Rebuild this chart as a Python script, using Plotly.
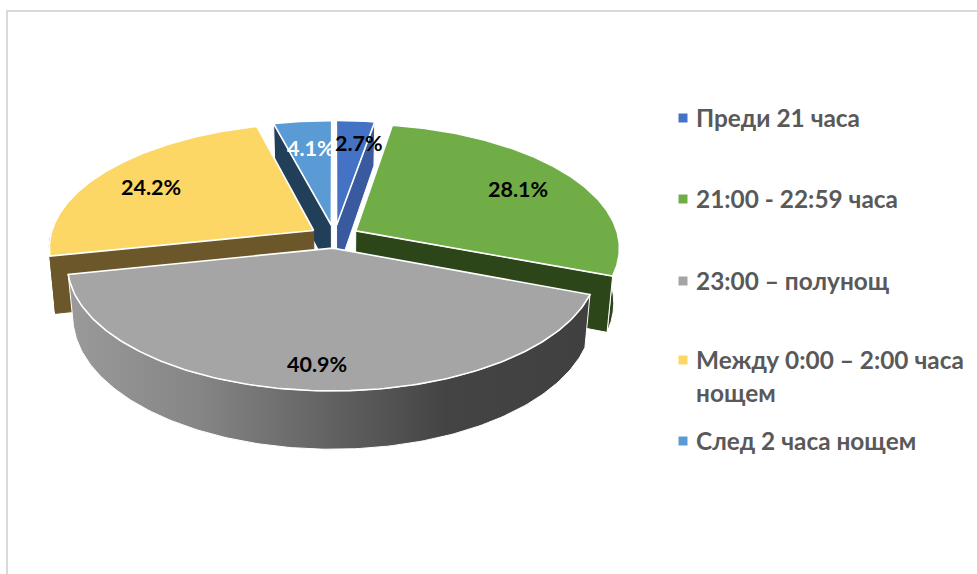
import numpy as np
import plotly.graph_objects as go

# ---- data ----
categories = ["Преди 21 часа", "21:00 - 22:59 часа", "23:00 – полунощ",
              "Между 0:00 – 2:00 часа<br>нощем", "След 2 часа нощем"]
values = [2.7, 28.1, 40.9, 24.2, 4.1]
labels = ["2.7%", "28.1%", "40.9%", "24.2%", "4.1%"]

# ---- styles ----
top_colors = ["#4472C4", "#70AD47", "#A5A5A5", "#FCD765", "#5B9BD5"]
side_colors = ["#3A5A9F", "#2C4519", "#444444", "#6B5729", "#223F59"]
wall_lines = ["white", "white", "white", "#6B5729", "white"]
label_colors = ["black", "black", "black", "black", "white"]
label_radius = [0.80, 0.62, 0.78, 0.68, 0.75]
label_nudge = [(7, 3), (29, -7), (3, 8), (-21, -3), (2, 3)]
slice_scale = [1.0, 1.012, 1.0, 1.015, 1.0]
slice_depth = [50, 54, 50, 56, 50]
legend_rows = [118, 199, 281, 360, 441]
legend_text_shift = -1
draw_order = [4, 0, 3, 1, 2]
FONT = "Lato, 'Noto Sans', sans-serif"

W, H_PX = 977, 574
CX, CY, RX, RY, K, EXPLODE, BOTTOM_SCALE = 334.5, 236.5, 259.5, 121, 0.13, 0.095, 0.98


def project(px, py, depth=None):
    """Map a point of the unit pie plane to screen space with perspective."""
    px, py = np.asarray(px, float), np.asarray(py, float)
    s = 1 / (1 - K * py)
    x = CX + RX * px * s
    y = CY + RY * py * s
    if depth is not None:
        x = CX + (x - CX) * BOTTOM_SCALE
        y = y + depth * s
    return x, y


def plane(theta, mid, r=1.0):
    ox, oy = EXPLODE * np.sin(mid), -EXPLODE * np.cos(mid)
    return ox + r * np.sin(theta), oy - r * np.cos(theta)


def poly(fig, x, y, color, line="white", width=1.0, gradient=None):
    kw = dict(fillgradient=gradient) if gradient else dict(fillcolor=color)
    fig.add_trace(go.Scatter(x=np.r_[x, x[0]], y=np.r_[y, y[0]], mode="lines", fill="toself",
                             line=dict(color=line, width=width), hoverinfo="skip",
                             showlegend=False, **kw))


fig = go.Figure()
edges = np.r_[0, np.cumsum(values)] / np.sum(values) * 2 * np.pi
mids = (edges[:-1] + edges[1:]) / 2

for i in draw_order:
    a, b, m = edges[i], edges[i + 1], mids[i]
    r, d = slice_scale[i], slice_depth[i]
    ax, ay = plane(m, m, 0)
    # outer wall, front half only
    lo, hi = max(a, np.pi / 2), min(b, 3 * np.pi / 2)
    if hi > lo:
        th = np.linspace(lo, hi, 160)
        px, py = plane(th, m, r)
        xt, yt = project(px, py)
        xb, yb = project(px, py, depth=d)
        grad = None
        if i == 2:
            grad = dict(type="horizontal", start=70, stop=590,
                        colorscale=[[0, "#9A9A9A"], [0.25, "#858585"], [0.5, "#626262"],
                                    [0.72, "#444444"], [1, "#404040"]])
        poly(fig, np.r_[xt, xb[::-1]], np.r_[yt, yb[::-1]], side_colors[i], line=wall_lines[i], gradient=grad)
    # cut faces, only those turned towards the viewer
    for edge, normal in ((a, a - np.pi / 2), (b, b + np.pi / 2)):
        if np.cos(normal) < -1e-6:
            rx, ry = plane(edge, m, r)
            xt, yt = project([ax, rx], [ay, ry])
            xb, yb = project([ax, rx], [ay, ry], depth=d)
            poly(fig, np.r_[xt, xb[::-1]], np.r_[yt, yb[::-1]], side_colors[i], line=wall_lines[i])
    # top surface
    th = np.linspace(a, b, 160)
    px, py = plane(th, m, r)
    xt, yt = project(np.r_[ax, px], np.r_[ay, py])
    poly(fig, xt, yt, top_colors[i], width=1.6)

# data labels
for i in range(len(values)):
    px, py = plane(mids[i], mids[i], label_radius[i])
    lx, ly = project(px, py)
    fig.add_annotation(x=float(lx) + label_nudge[i][0], y=float(ly) + label_nudge[i][1], text=f"<b>{labels[i]}</b>",
                       showarrow=False, font=dict(family=FONT, size=21.5, color=label_colors[i]))

# legend
fig.add_trace(go.Scatter(x=[683] * len(categories), y=legend_rows, mode="markers",
                         marker=dict(symbol="square", size=9, color=top_colors),
                         hoverinfo="skip", showlegend=False))
for row, name in zip(legend_rows, categories):
    for j, part in enumerate(name.split("<br>")):
        fig.add_annotation(x=694, y=row + legend_text_shift + j * 33, text=f"<b>{part}</b>", showarrow=False,
                           xanchor="left", font=dict(family=FONT, size=24.4, color="#595959"))

fig.update_layout(
    width=W, height=H_PX, margin=dict(l=0, r=0, t=0, b=0), paper_bgcolor="white", plot_bgcolor="white",
    xaxis=dict(range=[0, W], visible=False, fixedrange=True),
    yaxis=dict(range=[H_PX, 0], visible=False, fixedrange=True),
    shapes=[dict(type="path", path=f"M 7 {H_PX} L 7 11 L {W} 11", line=dict(color="#D9D9D9", width=2))],
)
fig.write_html("out.html", config={"displayModeBar": False},
               post_script="document.body.style.margin='0';document.body.style.overflow='hidden';")
